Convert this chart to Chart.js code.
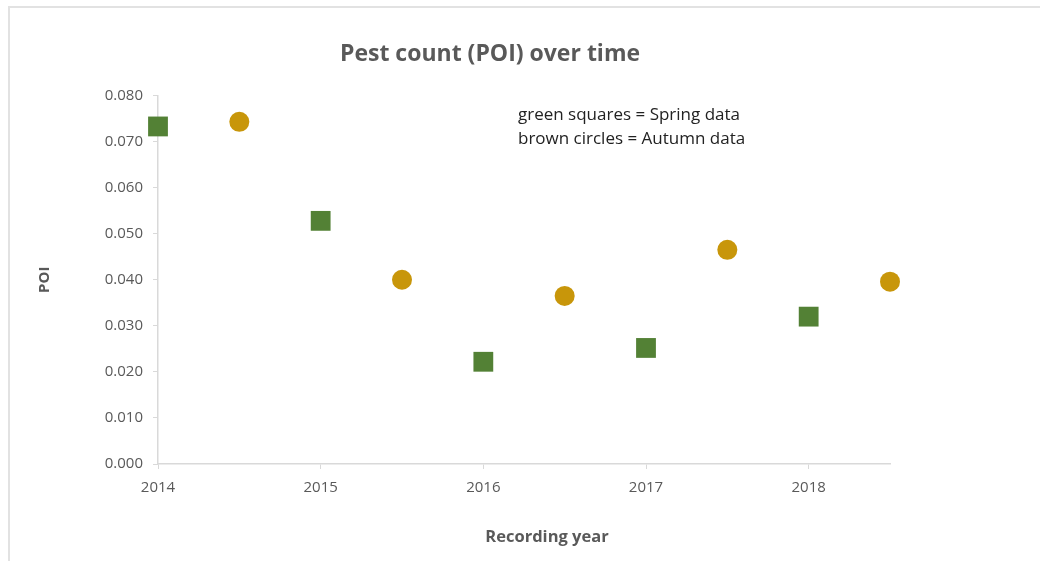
<!DOCTYPE html>
<html>
<head>
<meta charset="utf-8">
<script src="https://cdn.jsdelivr.net/npm/chart.js@4"></script>
<style>
    html, body { margin: 0; padding: 0; background: #fff; overflow: hidden; }
    #wrap { position: relative; width: 1040px; height: 561px; }
    #frame {
        position: absolute; left: 8px; top: 6px; width: 1100px; height: 600px;
        border: 2px solid #e2e2e2; box-sizing: border-box;
    }
    #chart { position: absolute; left: 0; top: 0; }
</style>
</head>
<body>
<div id="wrap">
    <div id="frame"></div>
    <canvas id="chart" width="1040" height="561"></canvas>
</div>
<script>
// ===== DATA =====
const springYears = [2014, 2015, 2016, 2017, 2018];
const springPOI = [0.0733, 0.0528, 0.0222, 0.0252, 0.0320];

const autumnYears = [2014.5, 2015.5, 2016.5, 2017.5, 2018.5];
const autumnPOI = [0.0743, 0.0400, 0.0365, 0.0465, 0.0396];

const xTicks = [2014, 2015, 2016, 2017, 2018];
const noteLines = ["green squares = Spring data", "brown circles = Autumn data"];
const xTitle = "Recording year";

const GREEN = "#538135";
const GOLD = "#C8960A";
const TEXT = "#595959";
const AXIS = "#d9d9d9";

// ===== EXTRA TEXT (note + x axis title) =====
const notePlugin = {
    id: "note",
    afterDraw(chart) {
        const ctx = chart.ctx;
        ctx.save();
        ctx.fillStyle = "#222";
        ctx.font = "17px 'Open Sans'";
        ctx.textBaseline = "middle";
        noteLines.forEach((t, i) => ctx.fillText(t, 518, 115 + i * 24));

        ctx.fillStyle = TEXT;
        ctx.font = "bold 16.5px 'Open Sans'";
        ctx.textAlign = "center";
        ctx.fillText(xTitle, 547, 537);
        ctx.restore();
    }
};

const ctx = document.getElementById("chart").getContext("2d");

new Chart(ctx, {
    type: "scatter",
    data: {
        datasets: [
            {
                label: "Spring",
                data: springYears.map((x, i) => ({ x: x, y: springPOI[i] })),
                pointStyle: "rect",
                pointRadius: 14,
                backgroundColor: GREEN,
                borderColor: GREEN,
                borderWidth: 0,
                clip: false
            },
            {
                label: "Autumn",
                data: autumnYears.map((x, i) => ({ x: x, y: autumnPOI[i] })),
                pointStyle: "circle",
                pointRadius: 10,
                backgroundColor: GOLD,
                borderColor: GOLD,
                borderWidth: 0,
                clip: false
            }
        ]
    },
    options: {
        responsive: false,
        animation: false,
        devicePixelRatio: 1,
        layout: { padding: { left: 90, right: 150, top: 0, bottom: 0 } },
        plugins: {
            legend: { display: false },
            tooltip: { enabled: false },
            title: {
                display: true,
                text: "Pest count (POI) over time",
                color: TEXT,
                font: { family: "'Open Sans'", size: 23, weight: "bold" },
                padding: { top: 41, bottom: 27 }
            }
        },
        scales: {
            x: {
                type: "linear",
                min: 2014,
                max: 2018.5,
                afterBuildTicks: scale => {
                    scale.ticks = xTicks.map(v => ({ value: v }));
                },
                afterFit: scale => { scale.height = 97; },
                grid: { drawOnChartArea: false, color: AXIS, tickLength: 5 },
                border: { color: AXIS, width: 1.5 },
                ticks: {
                    color: TEXT,
                    font: { family: "'Open Sans'", size: 15 },
                    padding: 10,
                    maxRotation: 0,
                    callback: v => String(v)
                },
                title: { display: false }
            },
            y: {
                min: 0,
                max: 0.08,
                afterFit: scale => { scale.width = 68; },
                grid: { drawOnChartArea: false, color: AXIS, tickLength: 5 },
                border: { color: AXIS, width: 1.5 },
                ticks: {
                    stepSize: 0.01,
                    color: TEXT,
                    font: { family: "'Open Sans'", size: 15 },
                    padding: 10,
                    callback: v => v.toFixed(3)
                },
                title: {
                    display: true,
                    text: "POI",
                    color: TEXT,
                    font: { family: "'Open Sans'", size: 15, weight: "bold" },
                    padding: { top: -54, bottom: 0 }
                }
            }
        }
    },
    plugins: [notePlugin]
});
</script>
</body>
</html>
